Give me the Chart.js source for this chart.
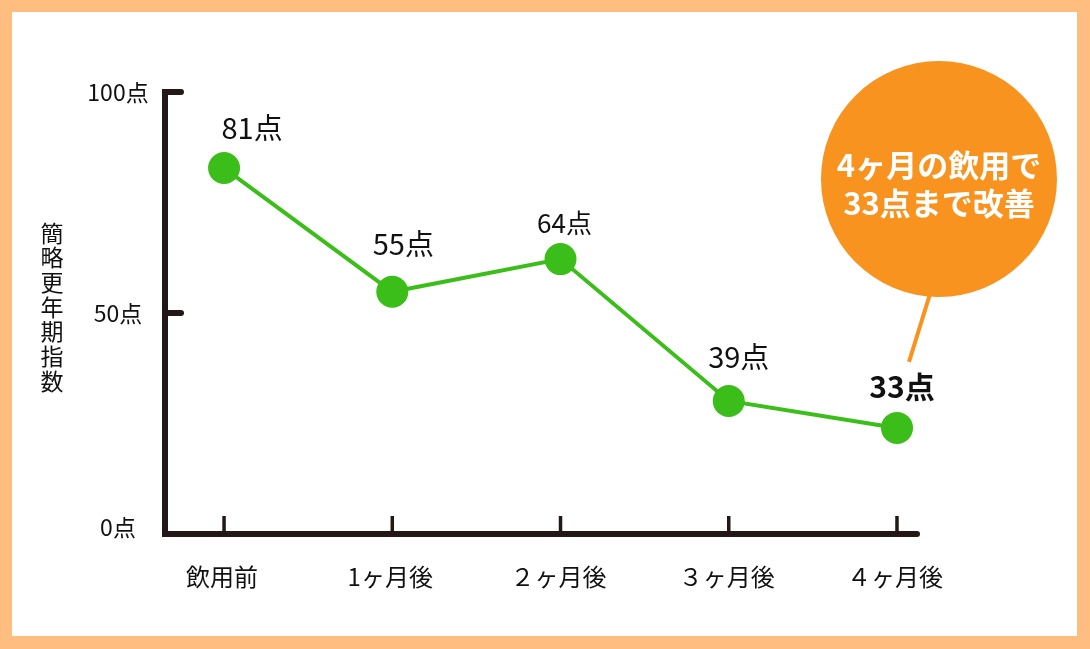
<!DOCTYPE html>
<html>
<head>
<meta charset="utf-8">
<script src="https://cdn.jsdelivr.net/npm/chart.js@4.4.0/dist/chart.umd.min.js"></script>
<style>
html, body { margin: 0; padding: 0; background: #FFBE80; }
#paper { position: absolute; left: 12px; top: 12px; width: 1065px; height: 624px; background: #fff; }
#chart { position: absolute; left: 0; top: 0; }
</style>
</head>
<body>
<div id="paper"></div>
<canvas id="chart" width="1090" height="649"></canvas>
<script>
// values (points sit where they are drawn, labels as printed)
const categories = ['飲用前', '1ヶ月後', '２ヶ月後', '３ヶ月後', '４ヶ月後'];
const scores = [82.8, 54.8, 62.2, 30.1, 24.0];
const pointLabels = ['81点', '55点', '64点', '39点', '33点'];
const yTicks = [0, 50, 100];
const yTickLabels = ['0点', '50点', '100点'];
const yTitle = '簡略更年期指数';
const calloutLines = ['4ヶ月の飲用で', '33点まで改善'];

const green = '#3CBE1A';
const ink = '#231815';
const orange = '#F8931F';
const jp = '"Noto Sans CJK JP", "Noto Sans", sans-serif';

const axesPlugin = {
    id: 'axesPlugin',
    beforeDatasetsDraw(chart) {
        const ctx = chart.ctx;
        const x = chart.scales.x, y = chart.scales.y;
        const left = x.left, right = x.right;
        const top = y.getPixelForValue(100), bottom = y.getPixelForValue(0);
        ctx.save();
        ctx.strokeStyle = ink;
        ctx.lineWidth = 6;
        ctx.lineJoin = 'miter';
        ctx.lineCap = 'round';
        ctx.beginPath();
        ctx.moveTo(left + 16, top);
        ctx.lineTo(left, top);
        ctx.lineTo(left, bottom);
        ctx.lineTo(right, bottom);
        ctx.stroke();
        // 50 tick
        ctx.beginPath();
        ctx.moveTo(left, y.getPixelForValue(50));
        ctx.lineTo(left + 16, y.getPixelForValue(50));
        ctx.stroke();
        // x ticks pointing up
        ctx.lineWidth = 3.5;
        ctx.lineCap = 'butt';
        categories.forEach((c, i) => {
            const px = x.getPixelForValue(i);
            ctx.beginPath();
            ctx.moveTo(px, bottom);
            ctx.lineTo(px, bottom - 18);
            ctx.stroke();
        });
        // tick labels
        ctx.fillStyle = '#111';
        ctx.textAlign = 'center';
        ctx.textBaseline = 'middle';
        ctx.font = '23px ' + jp;
        yTicks.forEach((v, i) => {
            ctx.fillText(yTickLabels[i], left - 47, y.getPixelForValue(v) - (v === 0 ? 7 : 0));
        });
        ctx.font = '24px ' + jp;
        categories.forEach((c, i) => {
            ctx.fillText(c, x.getPixelForValue(i) - 2, bottom + 43);
        });
        // vertical axis title
        ctx.font = '23px ' + jp;
        const mid = y.getPixelForValue(50) - 6;
        const chars = Array.from(yTitle);
        chars.forEach((ch, i) => {
            ctx.fillText(ch, left - 113, mid + (i - (chars.length - 1) / 2) * 24.7);
        });
        ctx.restore();
    }
};

const labelPlugin = {
    id: 'labelPlugin',
    afterDatasetsDraw(chart, args, opts) {
        const ctx = chart.ctx;
        const pts = chart.getDatasetMeta(0).data;
        ctx.save();
        ctx.fillStyle = '#111';
        ctx.textAlign = 'center';
        ctx.textBaseline = 'middle';
        pts.forEach((p, i) => {
            const o = opts.offsets[i];
            ctx.font = (o[3] ? 'bold ' : '') + o[2] + 'px ' + jp;
            ctx.fillText(pointLabels[i], p.x + o[0], p.y + o[1]);
        });
        // callout bubble tied to the last point
        const last = pts[pts.length - 1];
        const cx = last.x + 42, cy = last.y - 249;
        ctx.strokeStyle = orange;
        ctx.lineWidth = 4;
        ctx.beginPath();
        ctx.moveTo(cx - 8, cy + 112);
        ctx.lineTo(last.x + 12, last.y - 66);
        ctx.stroke();
        ctx.fillStyle = orange;
        ctx.beginPath();
        ctx.arc(cx, cy, 118, 0, Math.PI * 2);
        ctx.fill();
        ctx.fillStyle = '#fff';
        ctx.font = 'bold 31px ' + jp;
        ctx.fillText(calloutLines[0], cx, cy - 14);
        ctx.fillText(calloutLines[1], cx, cy + 24);
        ctx.restore();
    }
};

const config = {
    type: 'line',
    data: {
        datasets: [{
            data: scores.map((v, i) => ({ x: i, y: v })),
            borderColor: green,
            borderWidth: 4,
            backgroundColor: green,
            pointBackgroundColor: green,
            pointBorderWidth: 0,
            pointRadius: 16,
            pointHoverRadius: 16,
            tension: 0,
            clip: false
        }]
    },
    options: {
        responsive: false,
        animation: false,
        events: [],
        layout: { padding: { left: 165, right: 173, top: 92, bottom: 115 } },
        plugins: {
            legend: { display: false },
            tooltip: { enabled: false },
            labelPlugin: {
                // [dx, dy, font size, bold]
                offsets: [[28, -40, 29, false], [11, -48, 29, false], [4, -36, 26, false], [10, -44, 29, false], [5, -41, 30, true]]
            }
        },
        scales: {
            x: { type: 'linear', min: -0.351, max: 4.119, display: false },
            y: { type: 'linear', min: 0, max: 100, display: false }
        }
    },
    plugins: [axesPlugin, labelPlugin]
};

const chart = new Chart(document.getElementById('chart'), config);
</script>
</body>
</html>
